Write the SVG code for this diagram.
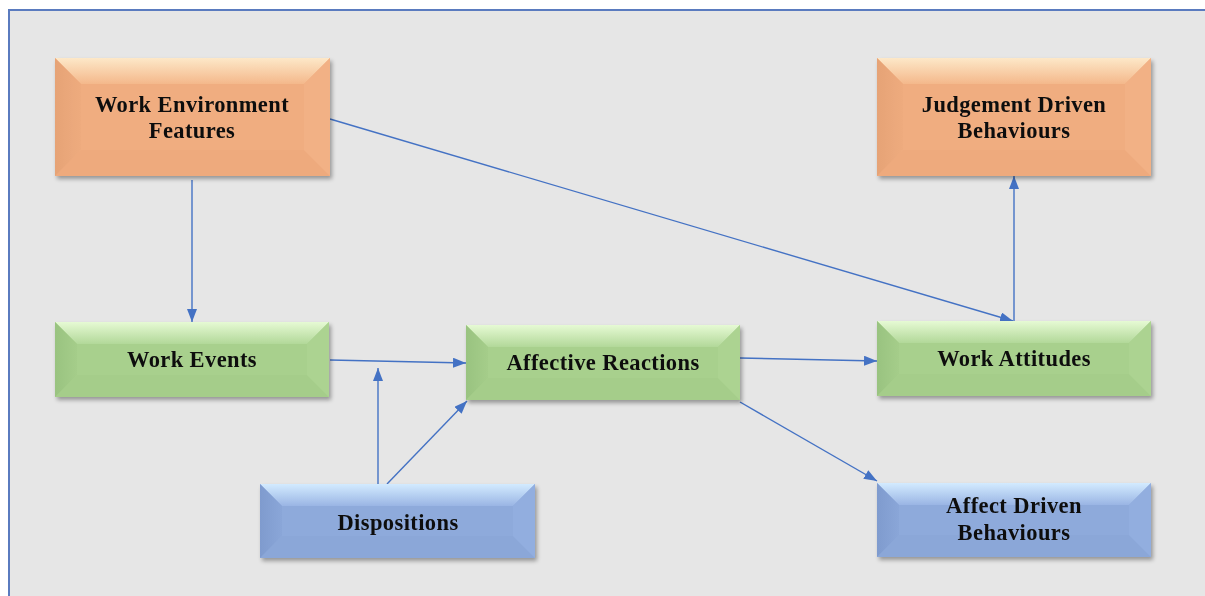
<svg xmlns="http://www.w3.org/2000/svg" width="1205" height="596" viewBox="0 0 1205 596">
  <defs>
    <style>
      .lbl { font-family: "Liberation Serif", "Times New Roman", serif; font-weight: bold; font-size: 22.5px; letter-spacing: 0.4px; fill: #111; text-anchor: middle; }
      .edge { fill: none; stroke: #4472c4; stroke-width: 1.4; marker-end: url(#arrow); }
      .or .base { fill: #f0ad80; } .or .top { fill: url(#orTop); } .or .lft { fill: url(#orLeft); } .or .rgt { fill: #f2b185; } .or .btm { fill: #eeaa7d; }
      .gr .base { fill: #a8d08d; } .gr .top { fill: url(#grTop); } .gr .lft { fill: url(#grLeft); } .gr .rgt { fill: #acd391; } .gr .btm { fill: #a5cd8a; }
      .bl .base { fill: #8eaadb; } .bl .top { fill: url(#blTop); } .bl .lft { fill: url(#blLeft); } .bl .rgt { fill: #92aedf; } .bl .btm { fill: #8ba7d8; }
      .box { filter: url(#shadow); }
    </style>
    <marker id="arrow" viewBox="0 0 13 10" markerWidth="13" markerHeight="10" refX="13" refY="5" orient="auto" markerUnits="userSpaceOnUse">
      <path d="M0,0 L13,5 L0,10 z" fill="#4472c4"/>
    </marker>
    <filter id="shadow" x="-10%" y="-20%" width="125%" height="150%">
      <feGaussianBlur in="SourceAlpha" stdDeviation="2"/>
      <feOffset dx="2" dy="3" result="b"/>
      <feComponentTransfer><feFuncA type="linear" slope="0.35"/></feComponentTransfer>
      <feMerge><feMergeNode/><feMergeNode in="SourceGraphic"/></feMerge>
    </filter>
    <linearGradient id="orTop" x1="0" y1="0" x2="0" y2="1"><stop offset="0" stop-color="#fde8c8"/><stop offset="1" stop-color="#f4b88b"/></linearGradient>
    <linearGradient id="orLeft" x1="0" y1="0" x2="1" y2="0"><stop offset="0" stop-color="#e6a376"/><stop offset="1" stop-color="#eeab7e"/></linearGradient>
    <linearGradient id="grTop" x1="0" y1="0" x2="0" y2="1"><stop offset="0" stop-color="#e6fad4"/><stop offset="1" stop-color="#b2d899"/></linearGradient>
    <linearGradient id="grLeft" x1="0" y1="0" x2="1" y2="0"><stop offset="0" stop-color="#99c380"/><stop offset="1" stop-color="#a5cd8a"/></linearGradient>
    <linearGradient id="blTop" x1="0" y1="0" x2="0" y2="1"><stop offset="0" stop-color="#d3ebff"/><stop offset="1" stop-color="#9ab5e4"/></linearGradient>
    <linearGradient id="blLeft" x1="0" y1="0" x2="1" y2="0"><stop offset="0" stop-color="#7f9bce"/><stop offset="1" stop-color="#8aa6d8"/></linearGradient>
  </defs>

  <!-- page and frame -->
  <rect x="0" y="0" width="1205" height="596" fill="#ffffff"/>
  <rect x="9" y="10" width="1205" height="600" fill="#e6e6e6" stroke="#5a7bbf" stroke-width="2"/>

  <!-- connectors -->
  <g id="connectors">
    <line class="edge" x1="192" y1="180" x2="192" y2="322"/>
    <line class="edge" x1="330" y1="119" x2="1013" y2="321"/>
    <line class="edge" x1="330" y1="360" x2="466" y2="363"/>
    <line class="edge" x1="378" y1="484" x2="378" y2="368"/>
    <line class="edge" x1="387" y1="484" x2="467" y2="401"/>
    <line class="edge" x1="740" y1="358" x2="877" y2="361"/>
    <line class="edge" x1="740" y1="402" x2="877" y2="481"/>
    <line class="edge" x1="1014" y1="321" x2="1014" y2="176"/>
  </g>

  <!-- Work Environment Features: 55,58 275x118 -->
  <g id="work-environment-features" class="box or">
    <rect class="base" x="55" y="58" width="275" height="118"/>
    <polygon class="top" points="55,58 330,58 304,84 81,84"/>
    <polygon class="btm" points="55,176 330,176 304,150 81,150"/>
    <polygon class="lft" points="55,58 81,84 81,150 55,176"/>
    <polygon class="rgt" points="330,58 304,84 304,150 330,176"/>
    <text class="lbl" x="192" y="112">Work Environment</text>
    <text class="lbl" x="192" y="138">Features</text>
  </g>

  <!-- Judgement Driven Behaviours: 877,58 274x118 -->
  <g id="judgement-driven-behaviours" class="box or">
    <rect class="base" x="877" y="58" width="274" height="118"/>
    <polygon class="top" points="877,58 1151,58 1125,84 903,84"/>
    <polygon class="btm" points="877,176 1151,176 1125,150 903,150"/>
    <polygon class="lft" points="877,58 903,84 903,150 877,176"/>
    <polygon class="rgt" points="1151,58 1125,84 1125,150 1151,176"/>
    <text class="lbl" x="1014" y="112">Judgement Driven</text>
    <text class="lbl" x="1014" y="138">Behaviours</text>
  </g>

  <!-- Work Events: 55,322 274x75 -->
  <g id="work-events" class="box gr">
    <rect class="base" x="55" y="322" width="274" height="75"/>
    <polygon class="top" points="55,322 329,322 307,344 77,344"/>
    <polygon class="btm" points="55,397 329,397 307,375 77,375"/>
    <polygon class="lft" points="55,322 77,344 77,375 55,397"/>
    <polygon class="rgt" points="329,322 307,344 307,375 329,397"/>
    <text class="lbl" x="192" y="367">Work Events</text>
  </g>

  <!-- Affective Reactions: 466,325 274x75 -->
  <g id="affective-reactions" class="box gr">
    <rect class="base" x="466" y="325" width="274" height="75"/>
    <polygon class="top" points="466,325 740,325 718,347 488,347"/>
    <polygon class="btm" points="466,400 740,400 718,378 488,378"/>
    <polygon class="lft" points="466,325 488,347 488,378 466,400"/>
    <polygon class="rgt" points="740,325 718,347 718,378 740,400"/>
    <text class="lbl" x="603" y="370">Affective Reactions</text>
  </g>

  <!-- Work Attitudes: 877,321 274x75 -->
  <g id="work-attitudes" class="box gr">
    <rect class="base" x="877" y="321" width="274" height="75"/>
    <polygon class="top" points="877,321 1151,321 1129,343 899,343"/>
    <polygon class="btm" points="877,396 1151,396 1129,374 899,374"/>
    <polygon class="lft" points="877,321 899,343 899,374 877,396"/>
    <polygon class="rgt" points="1151,321 1129,343 1129,374 1151,396"/>
    <text class="lbl" x="1014" y="366">Work Attitudes</text>
  </g>

  <!-- Dispositions: 260,484 275x74 -->
  <g id="dispositions" class="box bl">
    <rect class="base" x="260" y="484" width="275" height="74"/>
    <polygon class="top" points="260,484 535,484 513,506 282,506"/>
    <polygon class="btm" points="260,558 535,558 513,536 282,536"/>
    <polygon class="lft" points="260,484 282,506 282,536 260,558"/>
    <polygon class="rgt" points="535,484 513,506 513,536 535,558"/>
    <text class="lbl" x="398" y="530">Dispositions</text>
  </g>

  <!-- Affect Driven Behaviours: 877,483 274x74 -->
  <g id="affect-driven-behaviours" class="box bl">
    <rect class="base" x="877" y="483" width="274" height="74"/>
    <polygon class="top" points="877,483 1151,483 1129,505 899,505"/>
    <polygon class="btm" points="877,557 1151,557 1129,535 899,535"/>
    <polygon class="lft" points="877,483 899,505 899,535 877,557"/>
    <polygon class="rgt" points="1151,483 1129,505 1129,535 1151,557"/>
    <text class="lbl" x="1014" y="513">Affect Driven</text>
    <text class="lbl" x="1014" y="540">Behaviours</text>
  </g>
</svg>
